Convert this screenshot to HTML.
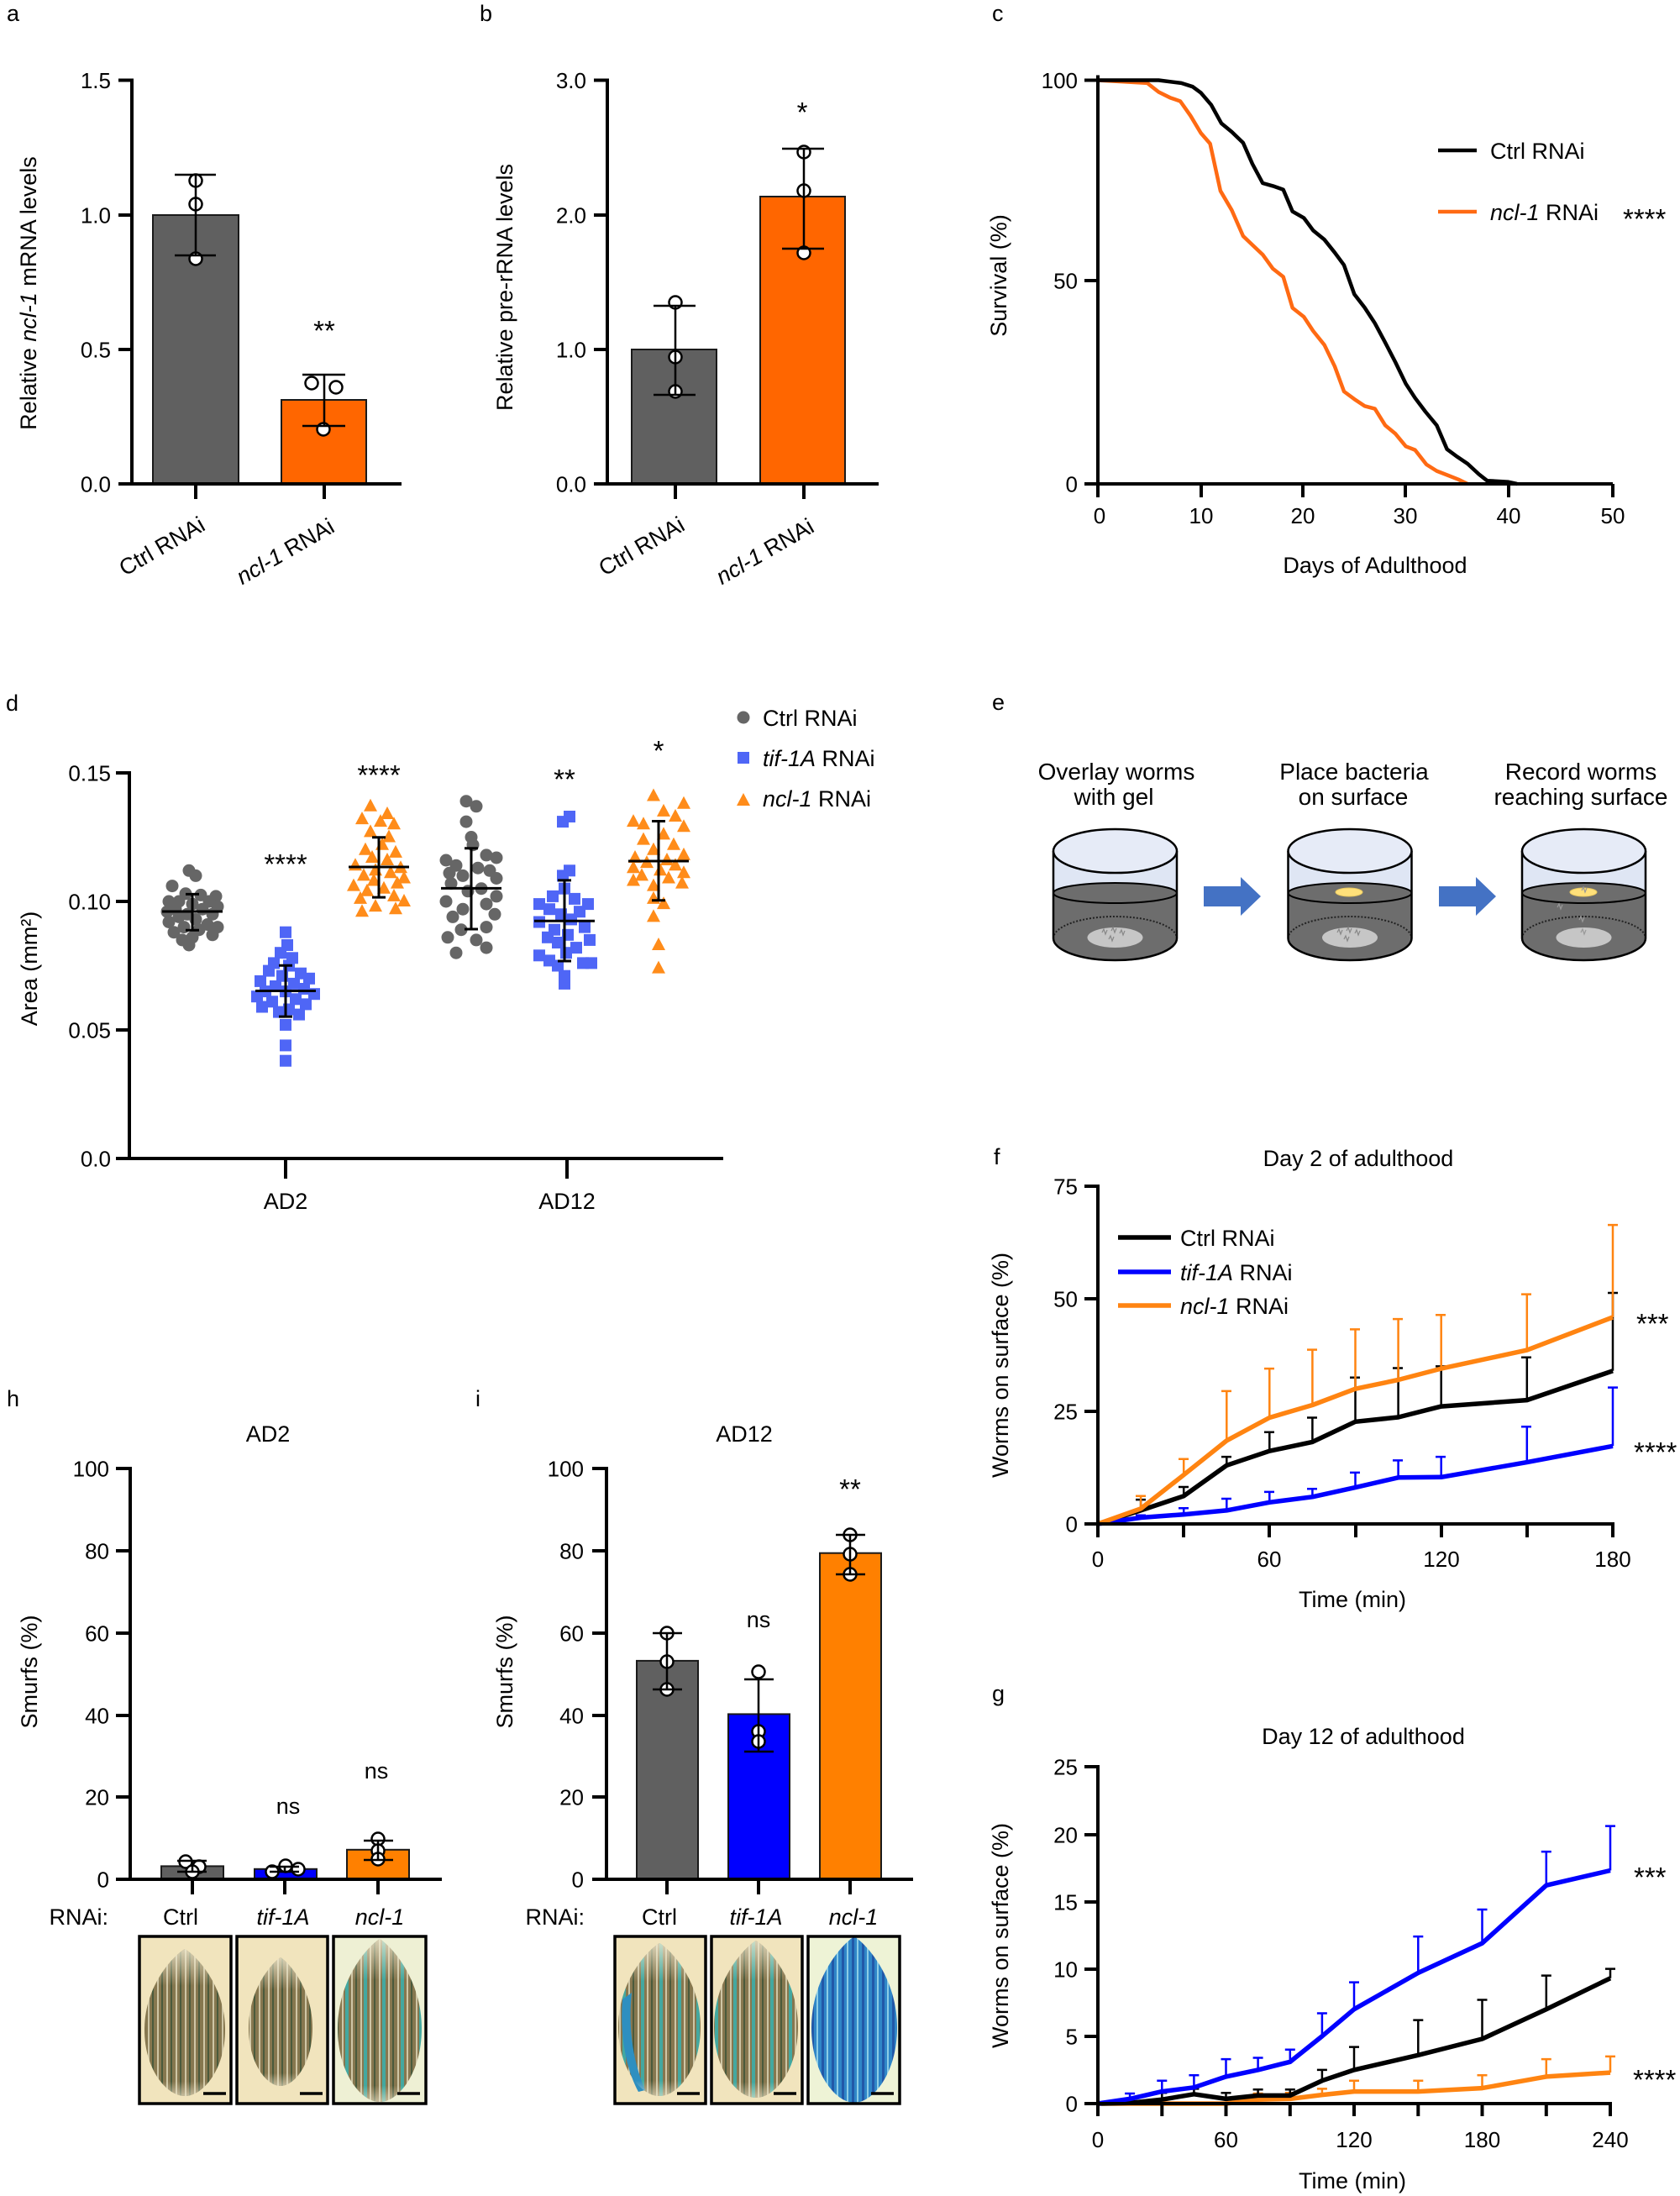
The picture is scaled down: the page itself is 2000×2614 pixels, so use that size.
<!DOCTYPE html>
<html><head><meta charset="utf-8"><style>
html,body{margin:0;padding:0;background:#fff;width:2000px;height:2614px;overflow:hidden}
svg{display:block}
text{font-family:"Liberation Sans",Arial,sans-serif;font-size:27px;fill:#000}
.tk{font-size:26px}
.st{font-size:33px}
.e{font-size:28px}
</style></head><body>
<svg width="2000" height="2614" viewBox="0 0 2000 2614" xmlns="http://www.w3.org/2000/svg">
<defs>
<circle id="dc" r="7.5" fill="#666"/>
<rect id="ds" x="-7" y="-7" width="14" height="14" fill="#4F66F6"/>
<path id="dt" d="M0,-9 L8,6 L-8,6Z" fill="#FF8C1A"/>
<pattern id="pw" width="11" height="300" patternUnits="userSpaceOnUse"><rect width="11" height="300" fill="#86774f"/><rect x="0" width="2" height="300" fill="#cfc6a6"/><rect x="5" width="2" height="300" fill="#4a5a3c"/></pattern>
<pattern id="pt" width="22" height="300" patternUnits="userSpaceOnUse"><rect width="22" height="300" fill="#86774f"/><rect x="0" width="2" height="300" fill="#cfc6a6"/><rect x="5" width="2" height="300" fill="#4a5a3c"/><rect x="11" width="2" height="300" fill="#cfc6a6"/><rect x="15" width="4" height="300" fill="#43a8a0"/></pattern>
<pattern id="pb" width="12" height="300" patternUnits="userSpaceOnUse"><rect width="12" height="300" fill="#2f86c8"/><rect x="0" width="2" height="300" fill="#8ccde6"/><rect x="6" width="3" height="300" fill="#2258a8"/></pattern>
<linearGradient id="fade" x1="0" y1="0" x2="0" y2="1"><stop offset="0" stop-color="#f0ead0" stop-opacity="0.8"/><stop offset="0.25" stop-color="#f0ead0" stop-opacity="0"/><stop offset="0.9" stop-color="#f0ead0" stop-opacity="0"/><stop offset="1" stop-color="#f0ead0" stop-opacity="0.6"/></linearGradient>
</defs>

<!-- ============ Panel a ============ -->
<text x="8" y="25">a</text>
<rect x="182" y="256" width="102" height="320" fill="#606060" stroke="#1a1a1a" stroke-width="2"/>
<rect x="335" y="476" width="101" height="100" fill="#FF6600" stroke="#1a1a1a" stroke-width="2"/>
<g stroke="#000" stroke-width="4" fill="none">
<line x1="157" y1="93.5" x2="157" y2="578"/><line x1="141" y1="576" x2="478" y2="576"/>
<line x1="141" y1="95.5" x2="157" y2="95.5"/><line x1="141" y1="256" x2="157" y2="256"/><line x1="141" y1="416" x2="157" y2="416"/>
<line x1="233" y1="576" x2="233" y2="594"/><line x1="386" y1="576" x2="386" y2="594"/>
</g>
<g stroke="#000" stroke-width="2.5" fill="#fff">
<circle cx="233" cy="215" r="7.5"/><circle cx="233" cy="243" r="7.5"/><circle cx="233" cy="308" r="7.5"/>
<circle cx="371" cy="456" r="7.5"/><circle cx="400" cy="461" r="7.5"/><circle cx="385" cy="511" r="7.5"/>
<path d="M233,208 V304 M208,208 H257 M208,304 H257 M386,446 V507 M360,446 H411 M360,507 H411" fill="none"/>
</g>
<g class="tk" text-anchor="end"><text class="tk" x="132" y="105">1.5</text><text class="tk" x="132" y="265.5">1.0</text><text class="tk" x="132" y="425.5">0.5</text><text class="tk" x="132" y="585.5">0.0</text></g>
<text class="st" x="386" y="405" text-anchor="middle">**</text>
<text transform="translate(43,349) rotate(-90)" text-anchor="middle">Relative <tspan font-style="italic">ncl-1</tspan> mRNA levels</text>
<text transform="translate(246,630) rotate(-30)" text-anchor="end">Ctrl RNAi</text>
<text transform="translate(400,632) rotate(-30)" text-anchor="end"><tspan font-style="italic">ncl-1</tspan> RNAi</text>

<!-- ============ Panel b ============ -->
<text x="571" y="25">b</text>
<rect x="752" y="416" width="101" height="160" fill="#606060" stroke="#1a1a1a" stroke-width="2"/>
<rect x="905" y="234" width="101" height="342" fill="#FF6600" stroke="#1a1a1a" stroke-width="2"/>
<g stroke="#000" stroke-width="4" fill="none">
<line x1="723" y1="93.5" x2="723" y2="578"/><line x1="707" y1="576" x2="1046" y2="576"/>
<line x1="707" y1="95.5" x2="723" y2="95.5"/><line x1="707" y1="256" x2="723" y2="256"/><line x1="707" y1="416" x2="723" y2="416"/>
<line x1="804" y1="576" x2="804" y2="594"/><line x1="957" y1="576" x2="957" y2="594"/>
</g>
<g stroke="#000" stroke-width="2.5" fill="#fff">
<circle cx="804" cy="360" r="7.5"/><circle cx="804" cy="425" r="7.5"/><circle cx="804" cy="466" r="7.5"/>
<circle cx="957" cy="181" r="7.5"/><circle cx="957" cy="227" r="7.5"/><circle cx="957" cy="301" r="7.5"/>
<path d="M804,364 V470 M778,364 H828 M778,470 H828 M957,177 V296 M931,177 H981 M931,296 H981" fill="none"/>
</g>
<g text-anchor="end"><text class="tk" x="698" y="105">3.0</text><text class="tk" x="698" y="265.5">2.0</text><text class="tk" x="698" y="425.5">1.0</text><text class="tk" x="698" y="585.5">0.0</text></g>
<text class="st" x="955" y="145" text-anchor="middle">*</text>
<text transform="translate(610,342) rotate(-90)" text-anchor="middle">Relative pre-rRNA levels</text>
<text transform="translate(817,630) rotate(-30)" text-anchor="end">Ctrl RNAi</text>
<text transform="translate(971,632) rotate(-30)" text-anchor="end"><tspan font-style="italic">ncl-1</tspan> RNAi</text>

<!-- ============ Panel c ============ -->
<text x="1181" y="25">c</text>
<polyline fill="none" stroke="#FF6A13" stroke-width="4.5" stroke-linejoin="round" points="1307,95.5 1365.8,98.9 1379.3,109.5 1392.8,116.2 1405.1,120.5 1417.3,137.8 1429.6,158.4 1440.6,171 1452.9,227.2 1466.4,250.2 1479.9,281 1490.9,291.5 1503.2,303.1 1515.4,319.9 1527.7,329.5 1538.7,366.5 1552.2,377.1 1563.2,393.9 1576.7,410.7 1589,436.2 1600,466 1612.3,475.1 1624.5,483.3 1636.8,486.6 1649.1,506.3 1661.3,516.4 1673.6,531.3 1684.6,535.6 1698.1,552.9 1710.4,560.6 1722.6,565.4 1736.1,570.7 1747.1,576"/>
<polyline fill="none" stroke="#000" stroke-width="4.5" stroke-linejoin="round" points="1307,95.5 1379.3,95.5 1406.3,98.9 1419.8,103.2 1429.6,110.4 1441.9,124.8 1454.1,146.9 1466.4,157 1479.9,170 1490.9,195 1503.2,218 1515.4,221.4 1527.7,225.7 1538.7,251.7 1552.2,259.4 1563.2,274.2 1576.7,285.3 1589,300.7 1600,315.6 1612.3,350.2 1624.5,366 1636.8,384.8 1649.1,407.8 1661.3,431.4 1673.6,456.8 1684.6,473.7 1696.9,490 1710.4,506.3 1722.6,534.7 1734.9,543.8 1747.1,552 1760.6,564.5 1770.4,572.2 1795,573.6 1806,576"/>
<g stroke="#000" stroke-width="4" fill="none">
<line x1="1307" y1="89.5" x2="1307" y2="592"/><line x1="1291" y1="576" x2="1920" y2="576"/>
<line x1="1291" y1="95.5" x2="1307" y2="95.5"/><line x1="1291" y1="334" x2="1307" y2="334"/>
<line x1="1430" y1="576" x2="1430" y2="592"/><line x1="1551" y1="576" x2="1551" y2="592"/><line x1="1673" y1="576" x2="1673" y2="592"/><line x1="1796" y1="576" x2="1796" y2="592"/><line x1="1920" y1="576" x2="1920" y2="592"/>
</g>
<g text-anchor="end"><text class="tk" x="1283" y="105">100</text><text class="tk" x="1283" y="343.5">50</text><text class="tk" x="1283" y="585.5">0</text></g>
<g text-anchor="middle"><text class="tk" x="1309" y="623">0</text><text class="tk" x="1430" y="623">10</text><text class="tk" x="1551" y="623">20</text><text class="tk" x="1673" y="623">30</text><text class="tk" x="1796" y="623">40</text><text class="tk" x="1920" y="623">50</text></g>
<text x="1637" y="682" text-anchor="middle">Days of Adulthood</text>
<text transform="translate(1198,328) rotate(-90)" text-anchor="middle">Survival (%)</text>
<line x1="1712" y1="179" x2="1758" y2="179" stroke="#000" stroke-width="4.5"/>
<text x="1774" y="189">Ctrl RNAi</text>
<line x1="1712" y1="252" x2="1758" y2="252" stroke="#FF6A13" stroke-width="4.5"/>
<text x="1774" y="262"><tspan font-style="italic">ncl-1</tspan> RNAi</text>
<text class="st" x="1932" y="272">****</text>

<!-- ============ Panel d ============ -->
<text x="7" y="846">d</text>
<g>
<use href="#dc" x="225" y="1036.3"/><use href="#dc" x="233" y="1042.4"/><use href="#dc" x="205" y="1054.6"/><use href="#dc" x="221" y="1063.8"/><use href="#dc" x="239" y="1065.4"/><use href="#dc" x="257" y="1066.9"/><use href="#dc" x="201" y="1073"/><use href="#dc" x="213" y="1073"/><use href="#dc" x="249" y="1073"/><use href="#dc" x="229" y="1076.1"/><use href="#dc" x="259" y="1079.1"/><use href="#dc" x="209" y="1082.2"/><use href="#dc" x="241" y="1082.2"/><use href="#dc" x="199" y="1085.2"/><use href="#dc" x="223" y="1088.3"/><use href="#dc" x="253" y="1088.3"/><use href="#dc" x="213" y="1091.4"/><use href="#dc" x="233" y="1094.4"/><use href="#dc" x="201" y="1097.5"/><use href="#dc" x="247" y="1100.5"/><use href="#dc" x="219" y="1103.6"/><use href="#dc" x="259" y="1103.6"/><use href="#dc" x="237" y="1106.7"/><use href="#dc" x="207" y="1109.7"/><use href="#dc" x="253" y="1112.8"/><use href="#dc" x="229" y="1115.8"/><use href="#dc" x="217" y="1118.9"/><use href="#dc" x="225" y="1125"/>
</g>
<g>
<use href="#ds" x="340" y="1109.7"/><use href="#ds" x="342" y="1125"/><use href="#ds" x="334" y="1134.2"/><use href="#ds" x="348" y="1140.3"/><use href="#ds" x="326" y="1146.4"/><use href="#ds" x="344" y="1149.5"/><use href="#ds" x="320" y="1155.6"/><use href="#ds" x="358" y="1158.7"/><use href="#ds" x="336" y="1161.7"/><use href="#ds" x="368" y="1164.8"/><use href="#ds" x="310" y="1167.9"/><use href="#ds" x="350" y="1170.9"/><use href="#ds" x="328" y="1174"/><use href="#ds" x="362" y="1177"/><use href="#ds" x="316" y="1180.1"/><use href="#ds" x="340" y="1180.1"/><use href="#ds" x="374" y="1183.2"/><use href="#ds" x="306" y="1186.2"/><use href="#ds" x="352" y="1189.3"/><use href="#ds" x="324" y="1192.3"/><use href="#ds" x="364" y="1195.4"/><use href="#ds" x="312" y="1198.5"/><use href="#ds" x="344" y="1201.5"/><use href="#ds" x="332" y="1204.6"/><use href="#ds" x="356" y="1207.6"/><use href="#ds" x="340" y="1219.9"/><use href="#ds" x="340" y="1244.4"/><use href="#ds" x="340" y="1262.7"/>
</g>
<g>
<use href="#dt" x="441" y="959.8"/><use href="#dt" x="461" y="969"/><use href="#dt" x="431" y="975.1"/><use href="#dt" x="453" y="978.1"/><use href="#dt" x="469" y="981.2"/><use href="#dt" x="441" y="990.4"/><use href="#dt" x="463" y="996.5"/><use href="#dt" x="455" y="1005.7"/><use href="#dt" x="435" y="1011.8"/><use href="#dt" x="471" y="1014.9"/><use href="#dt" x="443" y="1021"/><use href="#dt" x="461" y="1024"/><use href="#dt" x="423" y="1030.2"/><use href="#dt" x="477" y="1033.2"/><use href="#dt" x="447" y="1036.3"/><use href="#dt" x="465" y="1039.3"/><use href="#dt" x="433" y="1042.4"/><use href="#dt" x="481" y="1045.5"/><use href="#dt" x="445" y="1048.5"/><use href="#dt" x="473" y="1051.6"/><use href="#dt" x="421" y="1054.6"/><use href="#dt" x="457" y="1057.7"/><use href="#dt" x="437" y="1060.8"/><use href="#dt" x="469" y="1066.9"/><use href="#dt" x="429" y="1069.9"/><use href="#dt" x="481" y="1073"/><use href="#dt" x="447" y="1079.1"/><use href="#dt" x="471" y="1082.2"/><use href="#dt" x="431" y="1085.2"/>
</g>
<g>
<use href="#dc" x="555" y="953.7"/><use href="#dc" x="567" y="959.8"/><use href="#dc" x="555" y="978.1"/><use href="#dc" x="561" y="996.5"/><use href="#dc" x="563" y="1005.7"/><use href="#dc" x="579" y="1017.9"/><use href="#dc" x="591" y="1021"/><use href="#dc" x="531" y="1024"/><use href="#dc" x="543" y="1030.2"/><use href="#dc" x="569" y="1033.2"/><use href="#dc" x="583" y="1036.3"/><use href="#dc" x="535" y="1039.3"/><use href="#dc" x="551" y="1042.4"/><use href="#dc" x="591" y="1045.5"/><use href="#dc" x="537" y="1051.6"/><use href="#dc" x="573" y="1057.7"/><use href="#dc" x="557" y="1060.8"/><use href="#dc" x="591" y="1066.9"/><use href="#dc" x="531" y="1073"/><use href="#dc" x="579" y="1076.1"/><use href="#dc" x="551" y="1082.2"/><use href="#dc" x="589" y="1088.3"/><use href="#dc" x="539" y="1091.4"/><use href="#dc" x="579" y="1103.6"/><use href="#dc" x="549" y="1106.7"/><use href="#dc" x="533" y="1115.8"/><use href="#dc" x="567" y="1118.9"/><use href="#dc" x="579" y="1128.1"/><use href="#dc" x="543" y="1134.2"/>
</g>
<g>
<use href="#ds" x="678" y="972"/><use href="#ds" x="670" y="978.1"/><use href="#ds" x="678" y="1036.3"/><use href="#ds" x="670" y="1042.4"/><use href="#ds" x="672" y="1057.7"/><use href="#ds" x="658" y="1066.9"/><use href="#ds" x="684" y="1069.9"/><use href="#ds" x="642" y="1076.1"/><use href="#ds" x="700" y="1076.1"/><use href="#ds" x="654" y="1082.2"/><use href="#ds" x="690" y="1085.2"/><use href="#ds" x="668" y="1088.3"/><use href="#ds" x="680" y="1094.4"/><use href="#ds" x="642" y="1097.5"/><use href="#ds" x="696" y="1103.6"/><use href="#ds" x="660" y="1106.7"/><use href="#ds" x="676" y="1112.8"/><use href="#ds" x="652" y="1115.8"/><use href="#ds" x="702" y="1118.9"/><use href="#ds" x="664" y="1122"/><use href="#ds" x="686" y="1128.1"/><use href="#ds" x="674" y="1134.2"/><use href="#ds" x="642" y="1137.3"/><use href="#ds" x="654" y="1143.4"/><use href="#ds" x="694" y="1146.4"/><use href="#ds" x="704" y="1146.4"/><use href="#ds" x="664" y="1149.5"/><use href="#ds" x="672" y="1161.7"/><use href="#ds" x="672" y="1170.9"/>
</g>
<g>
<use href="#dt" x="778" y="947.5"/><use href="#dt" x="814" y="956.7"/><use href="#dt" x="790" y="965.9"/><use href="#dt" x="804" y="972"/><use href="#dt" x="754" y="978.1"/><use href="#dt" x="766" y="981.2"/><use href="#dt" x="814" y="984.3"/><use href="#dt" x="790" y="993.4"/><use href="#dt" x="766" y="999.6"/><use href="#dt" x="802" y="1005.7"/><use href="#dt" x="778" y="1011.8"/><use href="#dt" x="814" y="1017.9"/><use href="#dt" x="756" y="1021"/><use href="#dt" x="794" y="1024"/><use href="#dt" x="770" y="1027.1"/><use href="#dt" x="804" y="1030.2"/><use href="#dt" x="754" y="1033.2"/><use href="#dt" x="786" y="1036.3"/><use href="#dt" x="814" y="1039.3"/><use href="#dt" x="764" y="1042.4"/><use href="#dt" x="796" y="1045.5"/><use href="#dt" x="754" y="1048.5"/><use href="#dt" x="812" y="1051.6"/><use href="#dt" x="778" y="1054.6"/><use href="#dt" x="778" y="1069.9"/><use href="#dt" x="790" y="1076.1"/><use href="#dt" x="778" y="1091.4"/><use href="#dt" x="784" y="1125"/><use href="#dt" x="784" y="1152.6"/>
</g>
<g stroke="#000" stroke-width="3" fill="none">
<path d="M193,1085 H265 M229,1064.4 V1107.3 M221,1064.4 H237 M221,1107.3 H237"/>
<path d="M304,1179.5 H376 M340,1149.2 V1210.1 M332,1149.2 H348 M332,1210.1 H348"/>
<path d="M415,1032 H487 M451,996.8 V1068.1 M443,996.8 H459 M443,1068.1 H459"/>
<path d="M525,1057.4 H597 M561,1009.7 V1106 M553,1009.7 H569 M553,1106 H569"/>
<path d="M636,1096.3 H708 M672,1047.9 V1144 M664,1047.9 H680 M664,1144 H680"/>
<path d="M748,1025 H820 M784,977.5 V1071.8 M776,977.5 H792 M776,1071.8 H792"/>
</g>
<g stroke="#000" stroke-width="4" fill="none">
<line x1="154" y1="918" x2="154" y2="1381"/><line x1="138" y1="1379" x2="861" y2="1379"/>
<line x1="138" y1="920" x2="154" y2="920"/><line x1="138" y1="1073" x2="154" y2="1073"/><line x1="138" y1="1226" x2="154" y2="1226"/>
<line x1="340" y1="1379" x2="340" y2="1403"/><line x1="675" y1="1379" x2="675" y2="1403"/>
</g>
<g text-anchor="end"><text class="tk" x="132" y="929.5">0.15</text><text class="tk" x="132" y="1082.5">0.10</text><text class="tk" x="132" y="1235.5">0.05</text><text class="tk" x="132" y="1388.5">0.0</text></g>
<text x="340" y="1439" text-anchor="middle">AD2</text>
<text x="675" y="1439" text-anchor="middle">AD12</text>
<text transform="translate(44,1153) rotate(-90)" text-anchor="middle">Area (mm²)</text>
<g text-anchor="middle">
<text class="st" x="340" y="1040">****</text><text class="st" x="451" y="934">****</text><text class="st" x="672" y="939">**</text><text class="st" x="784" y="905">*</text>
</g>
<use href="#dc" x="885" y="854"/><text x="908" y="864">Ctrl RNAi</text>
<use href="#ds" x="885" y="902"/><text x="908" y="912"><tspan font-style="italic">tif-1A</tspan> RNAi</text>
<use href="#dt" x="885" y="953"/><text x="908" y="960"><tspan font-style="italic">ncl-1</tspan> RNAi</text>

<!-- ============ Panel e ============ -->
<text x="1181" y="845">e</text>
<g text-anchor="middle">
<text class="e" x="1329" y="928">Overlay worms</text><text class="e" x="1326" y="958">with gel</text>
<text class="e" x="1612" y="928">Place bacteria</text><text class="e" x="1611" y="958">on surface</text>
<text class="e" x="1882" y="928">Record worms</text><text class="e" x="1882" y="958">reaching surface</text>
</g>
<g>
<path d="M1254,1013 L1254,1117 A73.5,26 0 0 0 1401,1117 L1401,1013 Z" fill="#dfe6f4"/>
<path d="M1254,1063 A73.5,12 0 0 1 1401,1063 L1401,1117 A73.5,26 0 0 1 1254,1117 Z" fill="#6d6d6d"/>
<ellipse cx="1327.5" cy="1063" rx="73.5" ry="12" fill="#6d6d6d" stroke="#000" stroke-width="2"/>
<path d="M1254,1117 A73.5,26 0 0 1 1401,1117" stroke="#222" stroke-width="2" stroke-dasharray="2,2" fill="none"/>
<ellipse cx="1327.5" cy="1116" rx="33" ry="12" fill="#c6c6c6"/>
<path d="M1312,1110 l2,-4 l2,6 l2,-5 M1323,1108 l2,-4 l2,6 l2,-5 M1333,1111 l2,-4 l2,6 l2,-5 M1320,1118 l2,-4 l2,6 l2,-5" stroke="#888" stroke-width="1.2" fill="none"/>
<path d="M1254,1013 L1254,1117 A73.5,26 0 0 0 1401,1117 L1401,1013" stroke="#000" stroke-width="2.5" fill="none"/>
<ellipse cx="1327.5" cy="1013" rx="73.5" ry="26" fill="#e6ebf7" stroke="#000" stroke-width="2.5"/>
</g>
<g>
<path d="M1533.5,1013 L1533.5,1117 A73.5,26 0 0 0 1680.5,1117 L1680.5,1013 Z" fill="#dfe6f4"/>
<path d="M1533.5,1063 A73.5,12 0 0 1 1680.5,1063 L1680.5,1117 A73.5,26 0 0 1 1533.5,1117 Z" fill="#6d6d6d"/>
<ellipse cx="1607" cy="1063" rx="73.5" ry="12" fill="#6d6d6d" stroke="#000" stroke-width="2"/>
<ellipse cx="1606" cy="1062" rx="16" ry="5" fill="#FFE07A" stroke="#e8c860" stroke-width="1"/>
<path d="M1533.5,1117 A73.5,26 0 0 1 1680.5,1117" stroke="#222" stroke-width="2" stroke-dasharray="2,2" fill="none"/>
<ellipse cx="1607" cy="1116" rx="33" ry="12" fill="#c6c6c6"/>
<path d="M1592,1110 l2,-4 l2,6 l2,-5 M1603,1108 l2,-4 l2,6 l2,-5 M1613,1111 l2,-4 l2,6 l2,-5 M1600,1118 l2,-4 l2,6 l2,-5" stroke="#888" stroke-width="1.2" fill="none"/>
<path d="M1533.5,1013 L1533.5,1117 A73.5,26 0 0 0 1680.5,1117 L1680.5,1013" stroke="#000" stroke-width="2.5" fill="none"/>
<ellipse cx="1607" cy="1013" rx="73.5" ry="26" fill="#e6ebf7" stroke="#000" stroke-width="2.5"/>
</g>
<g>
<path d="M1812,1013 L1812,1117 A73.5,26 0 0 0 1959,1117 L1959,1013 Z" fill="#dfe6f4"/>
<path d="M1812,1063 A73.5,12 0 0 1 1959,1063 L1959,1117 A73.5,26 0 0 1 1812,1117 Z" fill="#6d6d6d"/>
<ellipse cx="1885.5" cy="1063" rx="73.5" ry="12" fill="#6d6d6d" stroke="#000" stroke-width="2"/>
<ellipse cx="1885" cy="1062" rx="16" ry="5" fill="#FFE07A" stroke="#e8c860" stroke-width="1"/>
<path d="M1812,1117 A73.5,26 0 0 1 1959,1117" stroke="#222" stroke-width="2" stroke-dasharray="2,2" fill="none"/>
<ellipse cx="1885.5" cy="1116" rx="33" ry="12" fill="#c6c6c6"/>
<path d="M1883,1060 l2,-4 l2,6 l2,-5 M1854,1080 l2,-4 l2,6 l2,-5 M1880,1095 l2,-4 l2,6 l2,-5 M1882,1110 l2,-4 l2,6 l2,-5" stroke="#999" stroke-width="1.2" fill="none"/>
<path d="M1812,1013 L1812,1117 A73.5,26 0 0 0 1959,1117 L1959,1013" stroke="#000" stroke-width="2.5" fill="none"/>
<ellipse cx="1885.5" cy="1013" rx="73.5" ry="26" fill="#e6ebf7" stroke="#000" stroke-width="2.5"/>
</g>
<path d="M1433,1055 H1477 V1044 L1501,1067 L1477,1090 V1079 H1433 Z" fill="#4472C4"/>
<path d="M1713,1055 H1757 V1044 L1781,1067 L1757,1090 V1079 H1713 Z" fill="#4472C4"/>

<!-- ============ Panel f ============ -->
<text x="1183" y="1386">f</text>
<text x="1617" y="1388" text-anchor="middle">Day 2 of adulthood</text>
<path fill="none" stroke="#000" stroke-width="2.5" d="M1358.1,1797.9V1785.1M1352,1785.1H1364 M1409.2,1780.8V1770M1403,1770H1415 M1460.3,1744.3V1734.1M1454,1734.1H1466 M1511.3,1727.2V1704.7M1505,1704.7H1517 M1562.4,1716.4V1687.5M1556,1687.5H1568 M1613.5,1692.3V1639.8M1607,1639.8H1619 M1664.6,1687V1628.5M1658,1628.5H1670 M1715.7,1674.1V1626.4M1709,1626.4H1721 M1817.8,1666.6V1615.7M1811,1615.7H1823 M1920,1631.8V1539M1914,1539H1926"/>
<path fill="none" stroke="#0000FF" stroke-width="2.5" d="M1358.1,1806.5V1803.8M1352,1803.8H1364 M1409.2,1802.7V1795.2M1403,1795.2H1415 M1460.3,1797.9V1784M1454,1784H1466 M1511.3,1788.3V1775.9M1505,1775.9H1517 M1562.4,1781.8V1772.2M1556,1772.2H1568 M1613.5,1770.6V1752.9M1607,1752.9H1619 M1664.6,1758.8V1738.4M1658,1738.4H1670 M1715.7,1758.3V1734.1M1709,1734.1H1721 M1817.8,1740.6V1698.2M1811,1698.2H1823 M1920,1721.3V1651.6M1914,1651.6H1926"/>
<path fill="none" stroke="#FF8411" stroke-width="2.5" d="M1358.1,1795.8V1780.8M1352,1780.8H1364 M1409.2,1755.6V1736.8M1403,1736.8H1415 M1460.3,1714.8V1655.9M1454,1655.9H1466 M1511.3,1687.5V1629.1M1505,1629.1H1517 M1562.4,1672.5V1606.6M1556,1606.6H1568 M1613.5,1653.2V1582.4M1607,1582.4H1619 M1664.6,1642.5V1570.1M1658,1570.1H1670 M1715.7,1629.1V1565.3M1709,1565.3H1721 M1817.8,1607.1V1540.6M1811,1540.6H1823 M1920,1568V1458.1M1914,1458.1H1926"/>
<polyline fill="none" stroke="#000" stroke-width="5.5" stroke-linejoin="round" points="1307,1814 1358.1,1797.9 1409.2,1780.8 1460.3,1744.3 1511.3,1727.2 1562.4,1716.4 1613.5,1692.3 1664.6,1687 1715.7,1674.1 1817.8,1666.6 1920,1631.8"/>
<polyline fill="none" stroke="#0000FF" stroke-width="5.5" stroke-linejoin="round" points="1307,1814 1358.1,1806.5 1409.2,1802.7 1460.3,1797.9 1511.3,1788.3 1562.4,1781.8 1613.5,1770.6 1664.6,1758.8 1715.7,1758.3 1817.8,1740.6 1920,1721.3"/>
<polyline fill="none" stroke="#FF8411" stroke-width="5.5" stroke-linejoin="round" points="1307,1814 1358.1,1795.8 1409.2,1755.6 1460.3,1714.8 1511.3,1687.5 1562.4,1672.5 1613.5,1653.2 1664.6,1642.5 1715.7,1629.1 1817.8,1607.1 1920,1568"/>
<g stroke="#000" stroke-width="4" fill="none">
<line x1="1307" y1="1410" x2="1307" y2="1830"/><line x1="1291" y1="1814" x2="1920" y2="1814"/>
<line x1="1291" y1="1412" x2="1307" y2="1412"/><line x1="1291" y1="1546" x2="1307" y2="1546"/><line x1="1291" y1="1680" x2="1307" y2="1680"/>
<line x1="1409" y1="1814" x2="1409" y2="1830"/><line x1="1511" y1="1814" x2="1511" y2="1830"/><line x1="1614" y1="1814" x2="1614" y2="1830"/><line x1="1716" y1="1814" x2="1716" y2="1830"/><line x1="1818" y1="1814" x2="1818" y2="1830"/><line x1="1920" y1="1812" x2="1920" y2="1830"/>
</g>
<g text-anchor="end"><text class="tk" x="1283" y="1421.5">75</text><text class="tk" x="1283" y="1555.5">50</text><text class="tk" x="1283" y="1689.5">25</text><text class="tk" x="1283" y="1823.5">0</text></g>
<g text-anchor="middle"><text class="tk" x="1307" y="1865">0</text><text class="tk" x="1511" y="1865">60</text><text class="tk" x="1716" y="1865">120</text><text class="tk" x="1920" y="1865">180</text></g>
<text x="1610" y="1913" text-anchor="middle">Time (min)</text>
<text transform="translate(1200,1625) rotate(-90)" text-anchor="middle">Worms on surface (%)</text>
<line x1="1331" y1="1473" x2="1394" y2="1473" stroke="#000" stroke-width="5.5"/>
<line x1="1331" y1="1514" x2="1394" y2="1514" stroke="#0000FF" stroke-width="5.5"/>
<line x1="1331" y1="1554" x2="1394" y2="1554" stroke="#FF8411" stroke-width="5.5"/>
<text x="1405" y="1483">Ctrl RNAi</text>
<text x="1405" y="1524"><tspan font-style="italic">tif-1A</tspan> RNAi</text>
<text x="1405" y="1564"><tspan font-style="italic">ncl-1</tspan> RNAi</text>
<text class="st" x="1948" y="1587">***</text>
<text class="st" x="1945" y="1740">****</text>

<!-- ============ Panel g ============ -->
<text x="1181" y="2025">g</text>
<text x="1623" y="2076" text-anchor="middle">Day 12 of adulthood</text>
<path fill="none" stroke="#FF8411" stroke-width="2.5" d="M1497.6,2499.2V2492M1491.6,2492H1503.6 M1535.8,2498.4V2491.2M1529.8,2491.2H1541.8 M1573.9,2493.6V2486.4M1567.9,2486.4H1579.9 M1612,2489.6V2476.7M1606,2476.7H1618 M1688.3,2489.6V2476.7M1682.3,2476.7H1694.3 M1764.5,2485.6V2470.3M1758.5,2470.3H1770.5 M1840.8,2471.9V2451.1M1834.8,2451.1H1846.8 M1917,2467.1V2447.9M1911,2447.9H1923"/>
<path fill="none" stroke="#000" stroke-width="2.5" d="M1383.3,2499.2V2491.2M1377.3,2491.2H1389.3 M1421.4,2492.8V2486.4M1415.4,2486.4H1427.4 M1459.5,2498.4V2491.2M1453.5,2491.2H1465.5 M1497.6,2494.4V2487.2M1491.6,2487.2H1503.6 M1535.8,2494.4V2487.2M1529.8,2487.2H1541.8 M1573.9,2476.7V2463.9M1567.9,2463.9H1579.9 M1612,2463.9V2436.6M1606,2436.6H1618 M1688.3,2446.3V2404.6M1682.3,2404.6H1694.3 M1764.5,2427V2380.5M1758.5,2380.5H1770.5 M1840.8,2391.7V2351.6M1834.8,2351.6H1846.8 M1917,2354.8V2343.6M1911,2343.6H1923"/>
<path fill="none" stroke="#0000FF" stroke-width="2.5" d="M1345.1,2498.4V2492M1339.1,2492H1351.1 M1383.3,2489.6V2476.7M1377.3,2476.7H1389.3 M1421.4,2484.8V2470.3M1415.4,2470.3H1427.4 M1459.5,2471.9V2451.1M1453.5,2451.1H1465.5 M1497.6,2463.9V2449.5M1491.6,2449.5H1503.6 M1535.8,2454.3V2439.8M1529.8,2439.8H1541.8 M1573.9,2423.8V2396.5M1567.9,2396.5H1579.9 M1612,2391.7V2359.6M1606,2359.6H1618 M1688.3,2348.4V2305.1M1682.3,2305.1H1694.3 M1764.5,2313.1V2273M1758.5,2273H1770.5 M1840.8,2244.2V2204.1M1834.8,2204.1H1846.8 M1917,2226.5V2173.6M1911,2173.6H1923"/>
<polyline fill="none" stroke="#FF8411" stroke-width="5.5" stroke-linejoin="round" points="1307,2504 1459.5,2504 1497.6,2499.2 1535.8,2498.4 1573.9,2493.6 1612,2489.6 1688.3,2489.6 1764.5,2485.6 1840.8,2471.9 1917,2467.1"/>
<polyline fill="none" stroke="#000" stroke-width="5.5" stroke-linejoin="round" points="1307,2504 1345.1,2503.2 1383.3,2499.2 1421.4,2492.8 1459.5,2498.4 1497.6,2494.4 1535.8,2494.4 1573.9,2476.7 1612,2463.9 1688.3,2446.3 1764.5,2427 1840.8,2391.7 1917,2354.8"/>
<polyline fill="none" stroke="#0000FF" stroke-width="5.5" stroke-linejoin="round" points="1307,2504 1345.1,2498.4 1383.3,2489.6 1421.4,2484.8 1459.5,2471.9 1497.6,2463.9 1535.8,2454.3 1573.9,2423.8 1612,2391.7 1688.3,2348.4 1764.5,2313.1 1840.8,2244.2 1917,2226.5"/>
<g stroke="#000" stroke-width="4" fill="none">
<line x1="1307" y1="2101" x2="1307" y2="2519"/><line x1="1291" y1="2504" x2="1917" y2="2504"/>
<line x1="1291" y1="2103" x2="1307" y2="2103"/><line x1="1291" y1="2184" x2="1307" y2="2184"/><line x1="1291" y1="2264" x2="1307" y2="2264"/><line x1="1291" y1="2344" x2="1307" y2="2344"/><line x1="1291" y1="2424" x2="1307" y2="2424"/>
<line x1="1383.3" y1="2504" x2="1383.3" y2="2519"/><line x1="1459.5" y1="2504" x2="1459.5" y2="2519"/><line x1="1535.8" y1="2504" x2="1535.8" y2="2519"/><line x1="1612" y1="2504" x2="1612" y2="2519"/><line x1="1688.3" y1="2504" x2="1688.3" y2="2519"/><line x1="1764.5" y1="2504" x2="1764.5" y2="2519"/><line x1="1840.8" y1="2504" x2="1840.8" y2="2519"/><line x1="1917" y1="2502" x2="1917" y2="2519"/>
</g>
<g text-anchor="end"><text class="tk" x="1283" y="2112.5">25</text><text class="tk" x="1283" y="2193.5">20</text><text class="tk" x="1283" y="2273.5">15</text><text class="tk" x="1283" y="2353.5">10</text><text class="tk" x="1283" y="2433.5">5</text><text class="tk" x="1283" y="2513.5">0</text></g>
<g text-anchor="middle"><text class="tk" x="1307" y="2556">0</text><text class="tk" x="1459.5" y="2556">60</text><text class="tk" x="1612" y="2556">120</text><text class="tk" x="1764.5" y="2556">180</text><text class="tk" x="1917" y="2556">240</text></g>
<text x="1610" y="2605" text-anchor="middle">Time (min)</text>
<text transform="translate(1200,2304) rotate(-90)" text-anchor="middle">Worms on surface (%)</text>
<text class="st" x="1945" y="2246">***</text>
<text class="st" x="1944" y="2487">****</text>

<!-- ============ Panel h ============ -->
<text x="8" y="1674">h</text>
<text x="319" y="1716" text-anchor="middle">AD2</text>
<rect x="192" y="2221.4" width="74" height="15.6" fill="#606060" stroke="#1a1a1a" stroke-width="2"/>
<rect x="303" y="2224.8" width="74" height="12.2" fill="#0000FF" stroke="#1a1a1a" stroke-width="2"/>
<rect x="413" y="2201.8" width="74" height="35.2" fill="#FF8000" stroke="#1a1a1a" stroke-width="2"/>
<g stroke="#000" stroke-width="2.5" fill="#fff">
<circle cx="221" cy="2216" r="7.5"/><circle cx="237" cy="2222" r="7.5"/><circle cx="229" cy="2228" r="7.5"/>
<circle cx="324" cy="2228" r="7.5"/><circle cx="340" cy="2221" r="7.5"/><circle cx="355" cy="2225" r="7.5"/>
<circle cx="450" cy="2189" r="7.5"/><circle cx="450" cy="2203" r="7.5"/><circle cx="450" cy="2213" r="7.5"/>
<path fill="none" d="M229,2215 V2228 M211,2215 H246 M211,2228 H246 M339,2222 V2228 M321,2222 H356 M321,2228 H356 M450,2191 V2214 M433,2191 H468 M433,2214 H468"/>
</g>
<g stroke="#000" stroke-width="4" fill="none">
<line x1="155" y1="1746" x2="155" y2="2239"/><line x1="138" y1="2237" x2="526" y2="2237"/>
<line x1="138" y1="1748" x2="155" y2="1748"/><line x1="138" y1="1846" x2="155" y2="1846"/><line x1="138" y1="1944" x2="155" y2="1944"/><line x1="138" y1="2042" x2="155" y2="2042"/><line x1="138" y1="2139" x2="155" y2="2139"/>
<line x1="229" y1="2237" x2="229" y2="2255"/><line x1="339" y1="2237" x2="339" y2="2255"/><line x1="450" y1="2237" x2="450" y2="2255"/>
</g>
<g text-anchor="end"><text class="tk" x="130" y="1757.5">100</text><text class="tk" x="130" y="1855.5">80</text><text class="tk" x="130" y="1953.5">60</text><text class="tk" x="130" y="2051.5">40</text><text class="tk" x="130" y="2148.5">20</text><text class="tk" x="130" y="2246.5">0</text></g>
<text x="343" y="2159" text-anchor="middle">ns</text>
<text x="448" y="2117" text-anchor="middle">ns</text>
<text transform="translate(44,1990) rotate(-90)" text-anchor="middle">Smurfs (%)</text>
<text x="129" y="2291" text-anchor="end">RNAi:</text>
<text x="215" y="2291" text-anchor="middle">Ctrl</text>
<text x="337" y="2291" text-anchor="middle" font-style="italic">tif-1A</text>
<text x="452" y="2291" text-anchor="middle" font-style="italic">ncl-1</text>

<!-- ============ Panel i ============ -->
<text x="566" y="1674">i</text>
<text x="886" y="1716" text-anchor="middle">AD12</text>
<rect x="758" y="1976.9" width="73" height="260.1" fill="#606060" stroke="#1a1a1a" stroke-width="2"/>
<rect x="867" y="2040.4" width="73" height="196.6" fill="#0000FF" stroke="#1a1a1a" stroke-width="2"/>
<rect x="976" y="1848.7" width="73" height="388.3" fill="#FF8000" stroke="#1a1a1a" stroke-width="2"/>
<g stroke="#000" stroke-width="2.5" fill="#fff">
<circle cx="794" cy="1944" r="7.5"/><circle cx="794" cy="1978" r="7.5"/><circle cx="794" cy="2011" r="7.5"/>
<circle cx="903" cy="1990" r="7.5"/><circle cx="903" cy="2061" r="7.5"/><circle cx="903" cy="2073" r="7.5"/>
<circle cx="1012" cy="1827" r="7.5"/><circle cx="1012" cy="1850" r="7.5"/><circle cx="1012" cy="1874" r="7.5"/>
<path fill="none" d="M794,1944 V2011 M777,1944 H812 M777,2011 H812 M903,1999 V2085 M886,1999 H921 M886,2085 H921 M1012,1827 V1874 M995,1827 H1030 M995,1874 H1030"/>
</g>
<g stroke="#000" stroke-width="4" fill="none">
<line x1="722" y1="1746" x2="722" y2="2239"/><line x1="705" y1="2237" x2="1087" y2="2237"/>
<line x1="705" y1="1748" x2="722" y2="1748"/><line x1="705" y1="1846" x2="722" y2="1846"/><line x1="705" y1="1944" x2="722" y2="1944"/><line x1="705" y1="2042" x2="722" y2="2042"/><line x1="705" y1="2139" x2="722" y2="2139"/>
<line x1="794" y1="2237" x2="794" y2="2255"/><line x1="903" y1="2237" x2="903" y2="2255"/><line x1="1012" y1="2237" x2="1012" y2="2255"/>
</g>
<g text-anchor="end"><text class="tk" x="695" y="1757.5">100</text><text class="tk" x="695" y="1855.5">80</text><text class="tk" x="695" y="1953.5">60</text><text class="tk" x="695" y="2051.5">40</text><text class="tk" x="695" y="2148.5">20</text><text class="tk" x="695" y="2246.5">0</text></g>
<text class="st" x="1012" y="1784" text-anchor="middle">**</text>
<text x="903" y="1937" text-anchor="middle">ns</text>
<text transform="translate(610,1990) rotate(-90)" text-anchor="middle">Smurfs (%)</text>
<text x="696" y="2291" text-anchor="end">RNAi:</text>
<text x="785" y="2291" text-anchor="middle">Ctrl</text>
<text x="900" y="2291" text-anchor="middle" font-style="italic">tif-1A</text>
<text x="1016" y="2291" text-anchor="middle" font-style="italic">ncl-1</text>

<!-- ============ Worm images ============ -->
<g>
<rect x="166" y="2305" width="109" height="199" fill="#f1e4bd"/>
<path d="M220,2320 C205.6,2328.75 172,2363.75 172,2416.25 C172,2463.5 198.4,2495 220,2495 C241.6,2495 268,2463.5 268,2416.25 C268,2363.75 234.4,2328.75 220,2320Z" fill="url(#pw)"/>
<path d="M220,2320 C205.6,2328.75 172,2363.75 172,2416.25 C172,2463.5 198.4,2495 220,2495 C241.6,2495 268,2463.5 268,2416.25 C268,2363.75 234.4,2328.75 220,2320Z" fill="url(#fade)"/>
<rect x="166" y="2305" width="109" height="199" fill="none" stroke="#000" stroke-width="3.5"/>
<line x1="242" y1="2492" x2="269" y2="2492" stroke="#000" stroke-width="3.5"/>

<rect x="282" y="2305" width="108" height="199" fill="#f1e4bd"/>
<path d="M334,2330 C322.6,2337.65 296,2368.25 296,2414.15 C296,2455.5 316.9,2483 334,2483 C351.1,2483 372,2455.5 372,2414.15 C372,2368.25 345.4,2337.65 334,2330Z" fill="url(#pw)"/>
<path d="M334,2330 C322.6,2337.65 296,2368.25 296,2414.15 C296,2455.5 316.9,2483 334,2483 C351.1,2483 372,2455.5 372,2414.15 C372,2368.25 345.4,2337.65 334,2330Z" fill="url(#fade)"/>
<rect x="282" y="2305" width="108" height="199" fill="none" stroke="#000" stroke-width="3.5"/>
<line x1="357" y1="2492" x2="384" y2="2492" stroke="#000" stroke-width="3.5"/>

<rect x="397" y="2305" width="110" height="199" fill="#eef0d4"/>
<path d="M452,2308 C437,2317.7 402,2356.5 402,2414.7 C402,2467.1 429.5,2502 452,2502 C474.5,2502 502,2467.1 502,2414.7 C502,2356.5 467,2317.7 452,2308Z" fill="url(#pt)"/>
<path d="M452,2308 C437,2317.7 402,2356.5 402,2414.7 C402,2467.1 429.5,2502 452,2502 C474.5,2502 502,2467.1 502,2414.7 C502,2356.5 467,2317.7 452,2308Z" fill="url(#fade)"/>
<rect x="397" y="2305" width="110" height="199" fill="none" stroke="#000" stroke-width="3.5"/>
<line x1="473" y1="2492" x2="500" y2="2492" stroke="#000" stroke-width="3.5"/>

<rect x="732" y="2305" width="108" height="199" fill="#f1e4bd"/>
<path d="M785,2313 C770.3,2322.1 736,2358.5 736,2413.1 C736,2462.2 763,2495 785,2495 C807,2495 834,2462.2 834,2413.1 C834,2358.5 799.7,2322.1 785,2313Z" fill="url(#pt)"/>
<path d="M741,2380 C738,2420 744,2460 760,2490 L768,2488 C752,2450 748,2410 752,2372 Z" fill="#2e8fc0"/>
<path d="M785,2313 C770.3,2322.1 736,2358.5 736,2413.1 C736,2462.2 763,2495 785,2495 C807,2495 834,2462.2 834,2413.1 C834,2358.5 799.7,2322.1 785,2313Z" fill="url(#fade)"/>
<rect x="732" y="2305" width="108" height="199" fill="none" stroke="#000" stroke-width="3.5"/>
<line x1="806" y1="2492" x2="833" y2="2492" stroke="#000" stroke-width="3.5"/>

<rect x="847" y="2305" width="108" height="199" fill="#f1e4bd"/>
<path d="M900,2310 C885,2319.35 850,2356.75 850,2412.85 C850,2463.3 877.5,2497 900,2497 C922.5,2497 950,2463.3 950,2412.85 C950,2356.75 915,2319.35 900,2310Z" fill="url(#pt)"/>
<path d="M900,2310 C885,2319.35 850,2356.75 850,2412.85 C850,2463.3 877.5,2497 900,2497 C922.5,2497 950,2463.3 950,2412.85 C950,2356.75 915,2319.35 900,2310Z" fill="url(#fade)"/>
<rect x="847" y="2305" width="108" height="199" fill="none" stroke="#000" stroke-width="3.5"/>
<line x1="921" y1="2492" x2="948" y2="2492" stroke="#000" stroke-width="3.5"/>

<rect x="962" y="2305" width="109" height="199" fill="#eef3d6"/>
<path d="M1017,2305 C1001.7,2314.9 966,2354.5 966,2413.9 C966,2467.4 994.6,2503 1017,2503 C1039.4,2503 1068,2467.4 1068,2413.9 C1068,2354.5 1032.3,2314.9 1017,2305Z" fill="url(#pb)"/>
<rect x="962" y="2305" width="109" height="199" fill="none" stroke="#000" stroke-width="3.5"/>
<line x1="1037" y1="2492" x2="1064" y2="2492" stroke="#000" stroke-width="3.5"/>
</g>
</svg>
</body></html>
